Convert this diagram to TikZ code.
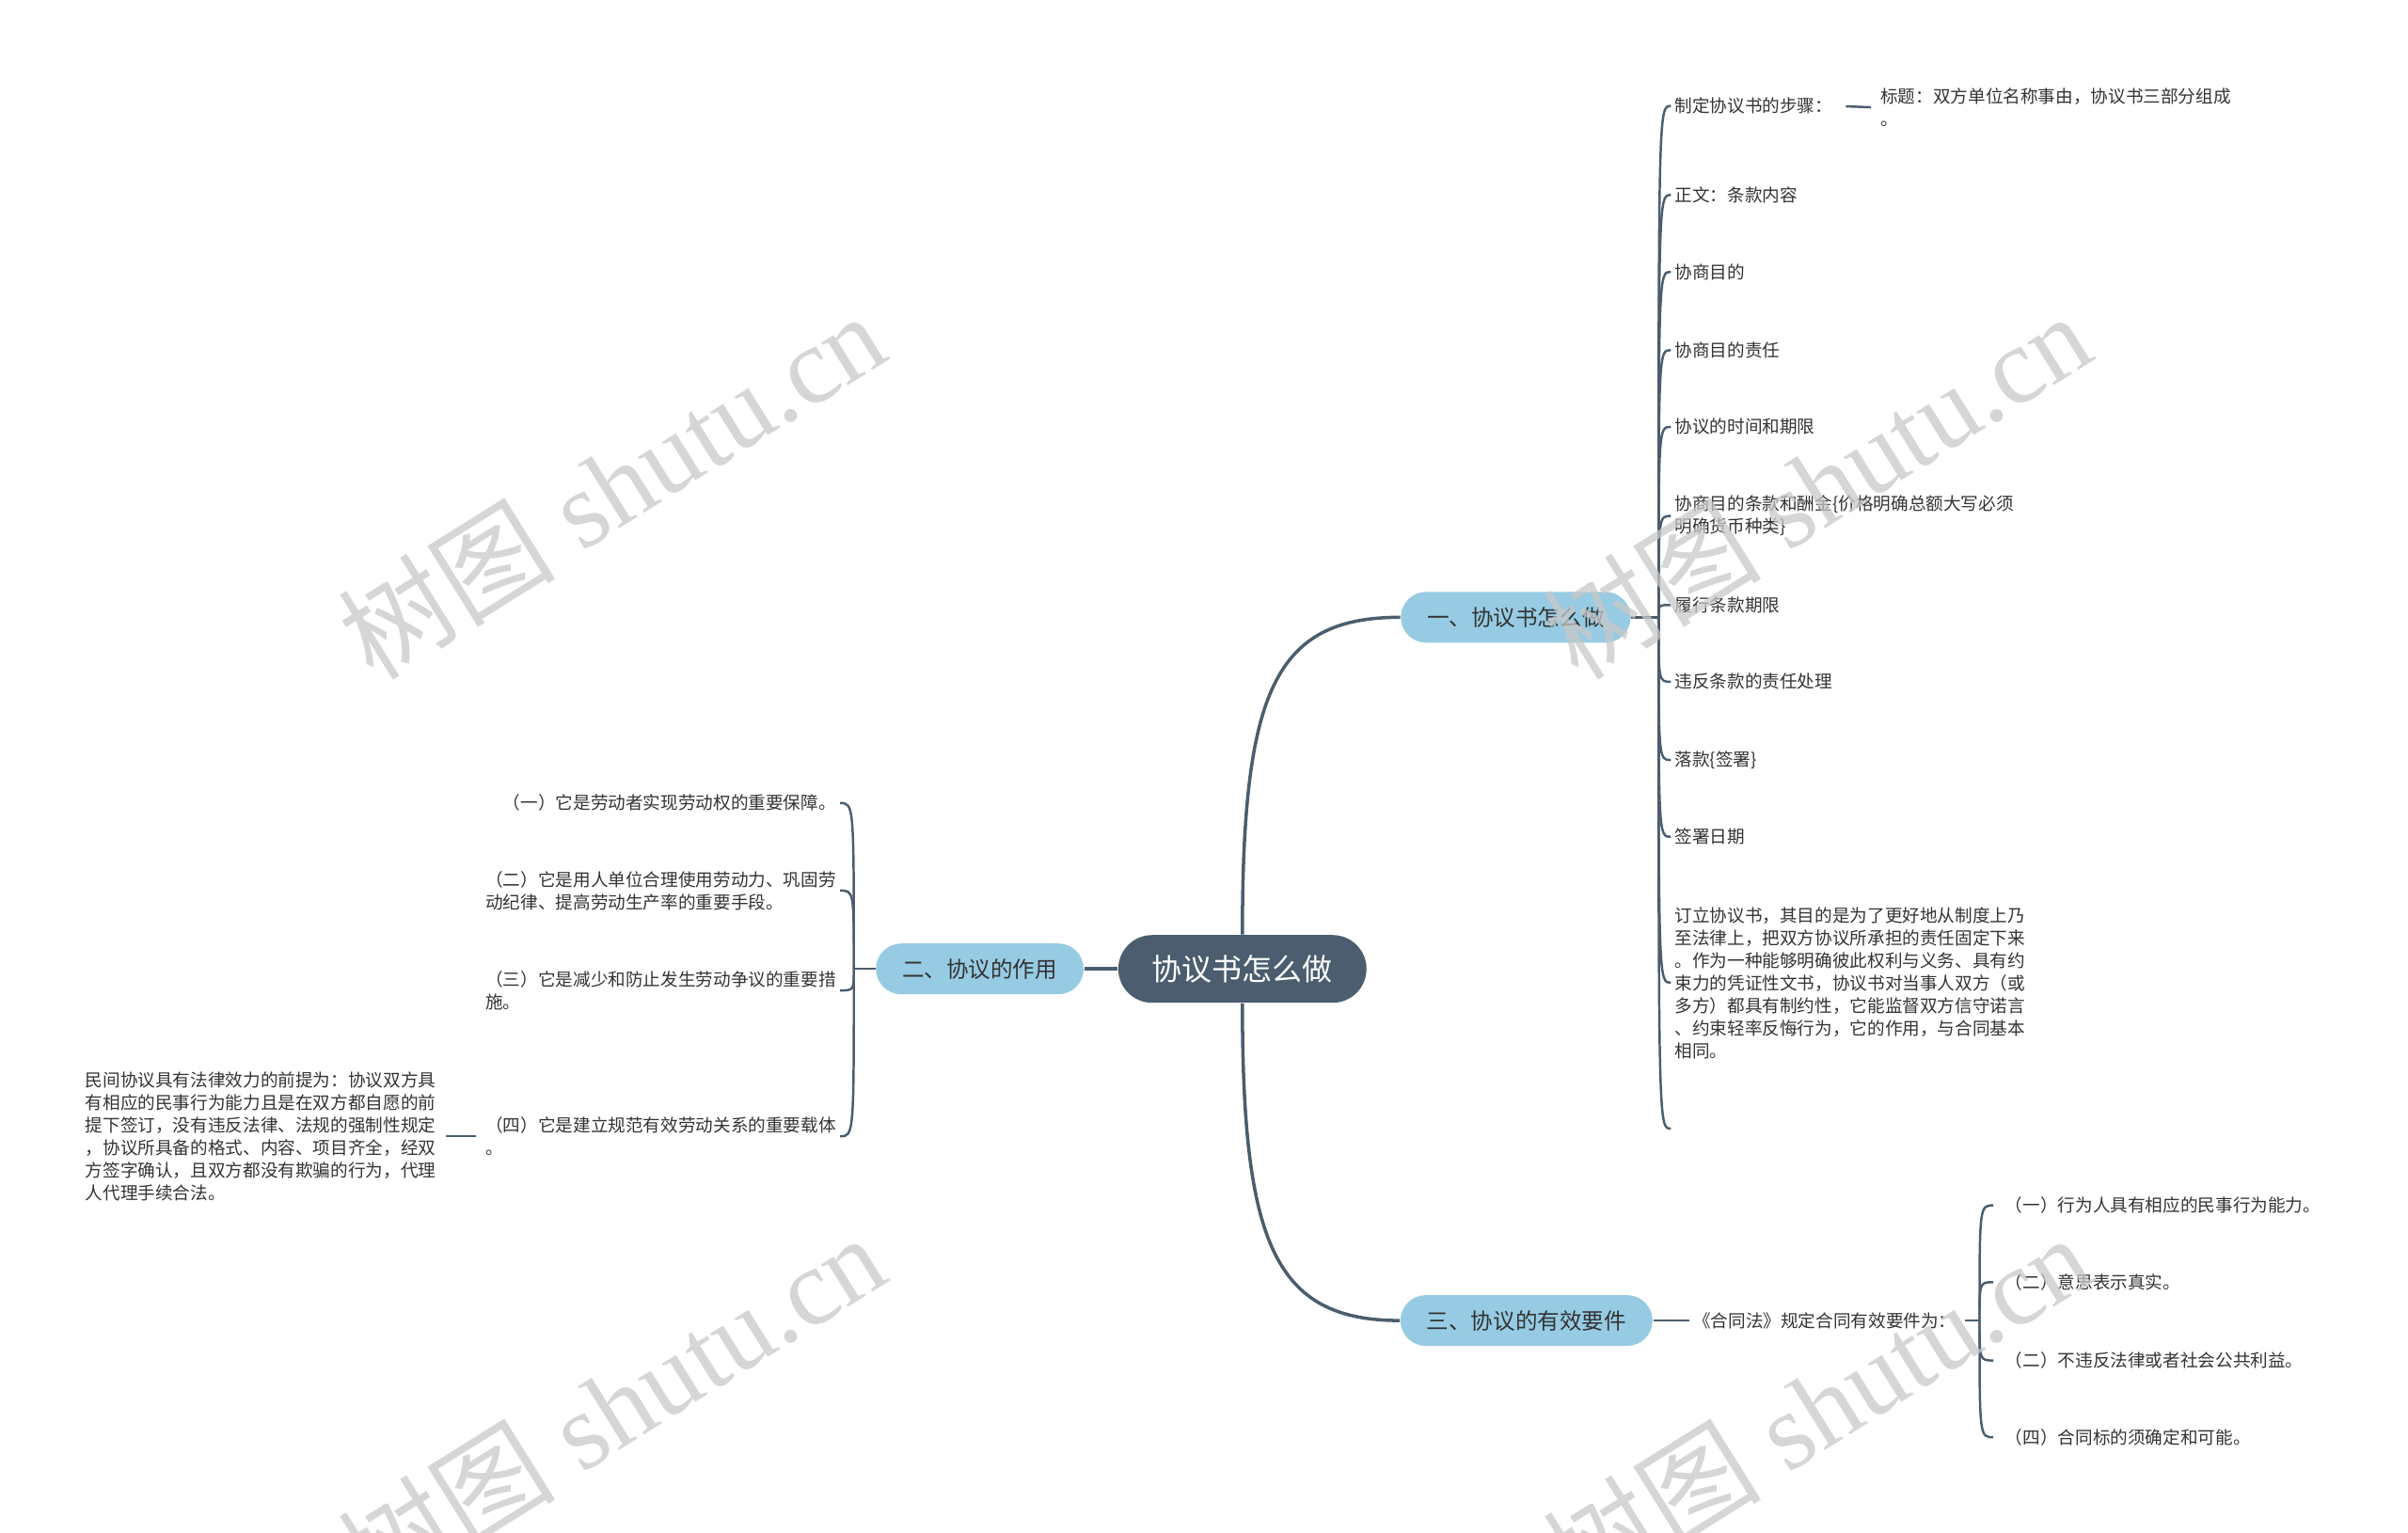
\documentclass[tikz,border=0pt]{standalone}
\usepackage{fontspec}
\setmainfont{Noto Sans CJK SC}
\newfontfamily\wmfont{Liberation Serif}
\usetikzlibrary{positioning,calc}
\definecolor{linkcol}{RGB}{75,93,110}
\definecolor{rootcol}{RGB}{75,93,110}
\definecolor{subcol}{RGB}{150,203,227}
\definecolor{textcol}{RGB}{51,51,51}
\definecolor{wmcol}{RGB}{200,200,200}

\begin{document}
\begin{tikzpicture}[x=0.01633cm,y=-0.01633cm,
  rootnode/.style={fill=rootcol,text=white,rounded corners=0.36cm,minimum height=0.72cm,
    inner xsep=0.36cm,font=\fontsize{9.1}{11}\selectfont},
  subnode/.style={fill=subcol,text=textcol,rounded corners=0.27cm,minimum height=0.54cm,
    inner xsep=0.28cm,font=\fontsize{6.7}{8}\selectfont},
  leaf/.style={text=textcol,inner sep=1pt,align=left,font=\fontsize{5.3}{6.83}\selectfont},
  leafwide/.style={leaf,inner xsep=0.12cm},
  link/.style={draw=linkcol,line width=0.7pt},
  rootlink/.style={draw=linkcol,line width=1pt},
  watermark/.style={text=wmcol,opacity=0.75,rotate=32,font=\wmfont\fontsize{33}{38}\selectfont}]
\useasboundingbox (0,0) rectangle (1568,998);

\node[rootnode] (root) at (809,631) {协议书怎么做};
\node[subnode] (b1) at (987,402) {一、协议书怎么做};
\node[subnode] (b2) at (638,631) {二、协议的作用};
\node[subnode] (b3) at (994,860) {三、协议的有效要件};

\draw[rootlink] (root.north) .. controls (809,450) and (830,402) .. (b1.west);
\draw[rootlink] (root.south) .. controls (809,810) and (830,860) .. (b3.west);
\draw[rootlink] (root.west) -- (b2.east);

\node[leaf,anchor=west] (s1) at (1088,69) {制定协议书的步骤：};
\node[leaf,anchor=west] (s2) at (1088,127) {正文：条款内容};
\node[leaf,anchor=west] (s3) at (1088,177) {协商目的};
\node[leaf,anchor=west] (s4) at (1088,228) {协商目的责任};
\node[leaf,anchor=west] (s5) at (1088,278) {协议的时间和期限};
\node[leaf,anchor=west] (s6) at (1088,336) {协商目的条款和酬金\{价格明确总额大写必须\\明确货币种类\}};
\node[leaf,anchor=west] (s7) at (1088,394) {履行条款期限};
\node[leaf,anchor=west] (s8) at (1088,444) {违反条款的责任处理};
\node[leaf,anchor=west] (s9) at (1088,495) {落款\{签署\}};
\node[leaf,anchor=west] (s10) at (1088,545) {签署日期};
\node[leaf,anchor=west] (s11) at (1088,640) {订立协议书，其目的是为了更好地从制度上乃\\至法律上，把双方协议所承担的责任固定下来\\。作为一种能够明确彼此权利与义务、具有约\\束力的凭证性文书，协议书对当事人双方（或\\多方）都具有制约性，它能监督双方信守诺言\\、约束轻率反悔行为，它的作用，与合同基本\\相同。};
\coordinate (s12) at (1088,735);
\node[leaf,anchor=west] (t1) at (1222,70) {标题：双方单位名称事由，协议书三部分组成\\。};

\coordinate (j1) at (1080,402);
\draw[link] (b1.east) -- (j1);
\foreach \n in {s1,s2,s3,s4,s5,s6,s7,s8,s9,s10,s11}
  \draw[link] (j1) .. controls (j1 |- \n.west) and (j1 |- \n.west) .. (\n.west);
\draw[link] (j1) .. controls (j1 |- s12) and (j1 |- s12) .. (s12);
\draw[link,shorten <=0.1cm,shorten >=0.06cm] (s1.east) -- (t1.west);

\node[leaf,anchor=east] (u1) at (547,523) {（一）它是劳动者实现劳动权的重要保障。};
\node[leaf,anchor=east] (u2) at (547,580) {（二）它是用人单位合理使用劳动力、巩固劳\\动纪律、提高劳动生产率的重要手段。};
\node[leaf,anchor=east] (u3) at (547,645) {（三）它是减少和防止发生劳动争议的重要措\\施。};
\node[leaf,anchor=east] (u4) at (547,740) {（四）它是建立规范有效劳动关系的重要载体\\。};
\node[leaf,anchor=west] (p1) at (53,740) {民间协议具有法律效力的前提为：协议双方具\\有相应的民事行为能力且是在双方都自愿的前\\提下签订，没有违反法律、法规的强制性规定\\，协议所具备的格式、内容、项目齐全，经双\\方签字确认，且双方都没有欺骗的行为，代理\\人代理手续合法。};

\coordinate (j2) at (556,631);
\draw[link] (b2.west) -- (j2);
\foreach \n in {u1,u2,u3,u4}
  \draw[link] (j2) .. controls (j2 |- \n.east) and (j2 |- \n.east) .. (\n.east);
\draw[link,shorten <=0.06cm,shorten >=0.06cm] (u4.west) -- (p1.east);

\node[leaf,anchor=west] (h1) at (1100,860) {《合同法》规定合同有效要件为：};
\node[leafwide,anchor=west] (v1) at (1298,785) {（一）行为人具有相应的民事行为能力。};
\node[leafwide,anchor=west] (v2) at (1298,835) {（二）意思表示真实。};
\node[leafwide,anchor=west] (v3) at (1298,886) {（二）不违反法律或者社会公共利益。};
\node[leafwide,anchor=west] (v4) at (1298,936) {（四）合同标的须确定和可能。};

\coordinate (j3) at (1289,860);
\draw[link] (b3.east) -- (h1.west);
\draw[link,shorten <=0.05cm] (h1.east) -- (j3);
\foreach \n in {v1,v2,v3,v4}
  \draw[link] (j3) .. controls (j3 |- \n.west) and (j3 |- \n.west) .. (\n.west);

\node[watermark] (w1) at (398,316) {{\setmainfont{Noto Sans CJK SC}\selectfont 树图} shutu.cn};
\node[watermark] (w2) at (1183,316) {{\setmainfont{Noto Sans CJK SC}\selectfont 树图} shutu.cn};
\node[watermark] (w3) at (398,916) {{\setmainfont{Noto Sans CJK SC}\selectfont 树图} shutu.cn};
\node[watermark] (w4) at (1183,916) {{\setmainfont{Noto Sans CJK SC}\selectfont 树图} shutu.cn};
\end{tikzpicture}
\end{document}
